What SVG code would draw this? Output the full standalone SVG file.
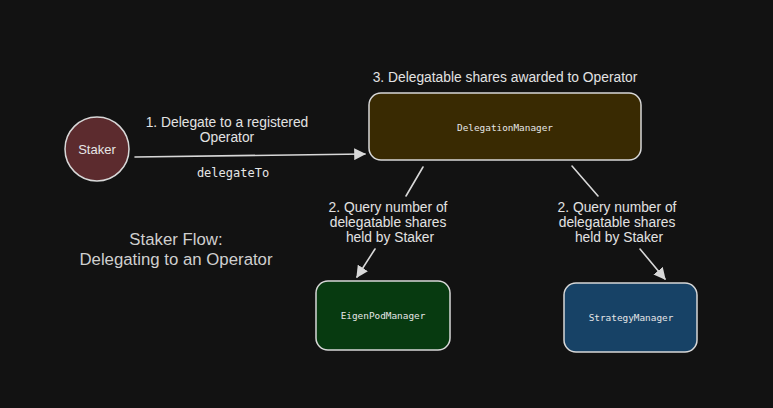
<svg xmlns="http://www.w3.org/2000/svg" width="773" height="408" viewBox="0 0 773 408">
<defs>
<style>
.hand{font-family:"Liberation Sans","DejaVu Sans",sans-serif;font-size:13.8px;fill:#e2e2e2;text-anchor:middle}
.mono{font-family:"DejaVu Sans Mono","Liberation Mono",monospace;font-size:9.4px;fill:#e6e6e6;text-anchor:middle}
.node{stroke:#d8d8d8;stroke-width:1.5}
.conn{stroke:#d8d8d8;stroke-width:1.6;fill:none;stroke-linecap:round}
.title{font-family:"Liberation Sans","Helvetica",sans-serif;font-size:16.8px;fill:#cfcfcf;text-anchor:middle}
</style>
<marker id="ah" viewBox="0 0 10 10" refX="9" refY="5" markerWidth="12" markerHeight="12" markerUnits="userSpaceOnUse" orient="auto">
<path d="M0,0 L10,5 L0,10 z" fill="#d8d8d8"/>
</marker>
</defs>
<rect width="773" height="408" fill="#121212"/>
<g id="staker">
<circle class="node" cx="97" cy="149" r="32" fill="#5c2b2e"/>
<text x="97" y="154" font-family="Liberation Sans,sans-serif" font-size="13" fill="#e6e6e6" text-anchor="middle">Staker</text>
</g>
<g id="delegationManager">
<rect class="node" x="369" y="93" width="272" height="67" rx="12" fill="#392a02"/>
<text class="mono" x="505" y="131">DelegationManager</text>
</g>
<g id="eigenPodManager">
<rect class="node" x="316" y="281" width="134" height="69" rx="12" fill="#073a10"/>
<text class="mono" x="383" y="319">EigenPodManager</text>
</g>
<g id="strategyManager">
<rect class="node" x="564" y="283" width="133" height="69" rx="12" fill="#174266"/>
<text class="mono" x="631" y="321">StrategyManager</text>
</g>
<g id="connectors">
<line class="conn" x1="135" y1="157" x2="365" y2="154" marker-end="url(#ah)"/>
<line class="conn" x1="423" y1="167" x2="406" y2="196"/>
<line class="conn" x1="375" y1="249" x2="357" y2="277" marker-end="url(#ah)"/>
<line class="conn" x1="572" y1="166" x2="598" y2="196"/>
<line class="conn" x1="640" y1="249" x2="665" y2="279" marker-end="url(#ah)"/>
</g>
<g id="labels">
<text class="hand" x="227" y="127">1. Delegate to a registered</text>
<text class="hand" x="227" y="142">Operator</text>
<text class="mono" x="233" y="177" style="font-size:12px">delegateTo</text>
<text class="hand" x="505" y="82">3. Delegatable shares awarded to Operator</text>
<text class="hand" x="388" y="212">2. Query number of</text>
<text class="hand" x="388" y="227">delegatable shares</text>
<text class="hand" x="390" y="242">held by Staker</text>
<text class="hand" x="617" y="212">2. Query number of</text>
<text class="hand" x="617" y="227">delegatable shares</text>
<text class="hand" x="619" y="242">held by Staker</text>
<text class="title" x="176" y="245">Staker Flow:</text>
<text class="title" x="176" y="265">Delegating to an Operator</text>
</g>
</svg>
